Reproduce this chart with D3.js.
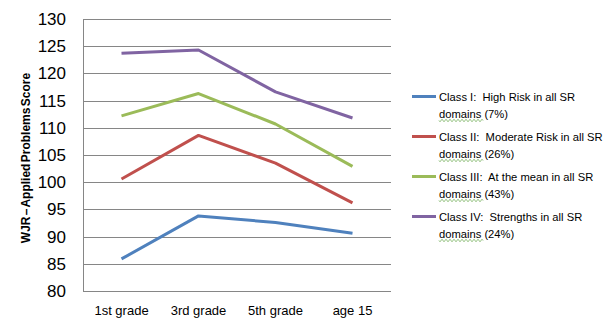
<!DOCTYPE html>
<html><head><meta charset="utf-8">
<script src="https://cdn.jsdelivr.net/npm/d3@7"></script>
<style>body{margin:0;background:#fff}svg{display:block}text{font-family:"Liberation Sans",Arial,sans-serif}</style>
</head><body>
<svg id="c" width="616" height="324"></svg>
<script>
const categories = ["1st grade", "3rd grade", "5th grade", "age 15"];
const seriesNames = [
  ["Class I:  High Risk in all SR", "domains (7%)"],
  ["Class II:  Moderate Risk in all SR", "domains (26%)"],
  ["Class III:  At the mean in all SR", "domains (43%)"],
  ["Class IV:  Strengths in all SR", "domains (24%)"]
];
const classI = [85.9, 93.8, 92.6, 90.6];
const classII = [100.6, 108.6, 103.5, 96.2];
const classIII = [112.2, 116.3, 110.7, 102.9];
const classIV = [123.7, 124.3, 116.6, 111.8];
const yTicks = [80, 85, 90, 95, 100, 105, 110, 115, 120, 125, 130];
const colors = ["#4F81BD", "#C0504D", "#9BBB59", "#8064A2"];
const yTitle = "WJR – Applied Problems Score";

const series = [classI, classII, classIII, classIV];
const svg = d3.select("#c");
const L = 83, R = 391, T = 19, B = 291;
const x = d3.scaleBand().domain(categories).range([L, R]);
const y = d3.scaleLinear().domain([80, 130]).range([B, T]);

// gridlines
svg.append("g").selectAll("line").data(yTicks).join("line")
  .attr("x1", L).attr("x2", R)
  .attr("y1", d => Math.round(y(d)) + 0.5).attr("y2", d => Math.round(y(d)) + 0.5)
  .attr("stroke", "#868686").attr("stroke-width", 1);
svg.append("line").attr("x1", L + 0.5).attr("x2", L + 0.5).attr("y1", T).attr("y2", B + 1)
  .attr("stroke", "#868686");

// y axis labels
const yAxis = d3.axisLeft(y).tickValues(yTicks).tickSize(0).tickPadding(17);
const gy = svg.append("g").attr("transform", `translate(${L},0)`).call(yAxis);
gy.select(".domain").remove();
gy.selectAll("text").attr("font-size", 17).attr("fill", "#000")
  .attr("font-family", "Liberation Sans, Arial, sans-serif");

// x axis labels
const xAxis = d3.axisBottom(x).tickSize(0).tickPadding(15);
const gx = svg.append("g").attr("transform", `translate(0,${B})`).call(xAxis);
gx.select(".domain").remove();
gx.selectAll("text").attr("font-size", 13).attr("fill", "#000")
  .attr("font-family", "Liberation Sans, Arial, sans-serif");

// y title
svg.append("text").attr("transform", `translate(30,${(T + B) / 2 + 3}) rotate(-90)`)
  .attr("text-anchor", "middle").attr("font-size", 12).attr("font-weight", "bold")
  .attr("word-spacing", -2).text(yTitle);

// lines
const line = d3.line().x((d, i) => x(categories[i]) + x.bandwidth() / 2).y(d => y(d));
svg.append("g").selectAll("path").data(series).join("path")
  .attr("d", line).attr("fill", "none")
  .attr("stroke", (d, i) => colors[i]).attr("stroke-width", 3)
  .attr("stroke-linejoin", "round");

// legend
const lg = svg.append("g");
seriesNames.forEach((nm, i) => {
  const cy = 96.5 + i * 40;
  lg.append("line").attr("x1", 412).attr("x2", 436).attr("y1", cy).attr("y2", cy)
    .attr("stroke", colors[i]).attr("stroke-width", 3);
  lg.append("text").attr("x", 439).attr("y", cy + 4).attr("font-size", 11.2)
    .style("white-space", "pre").text(nm[0]);
  const t2 = lg.append("text").attr("x", 439).attr("y", cy + 21).attr("font-size", 11.2)
    .style("white-space", "pre").text(nm[1]);
  // spell-check squiggle under "domains"
  const w = 44;
  let p = `M439,${cy + 24}`;
  for (let k = 0; k < w / 2; k++) p += `l1,${k % 2 ? -1.2 : 1.2}l1,${k % 2 ? 1.2 : -1.2}`;
  lg.append("path").attr("d", p).attr("fill", "none").attr("stroke", "#6aa84f").attr("stroke-width", 0.8);
});
</script>
</body></html>
